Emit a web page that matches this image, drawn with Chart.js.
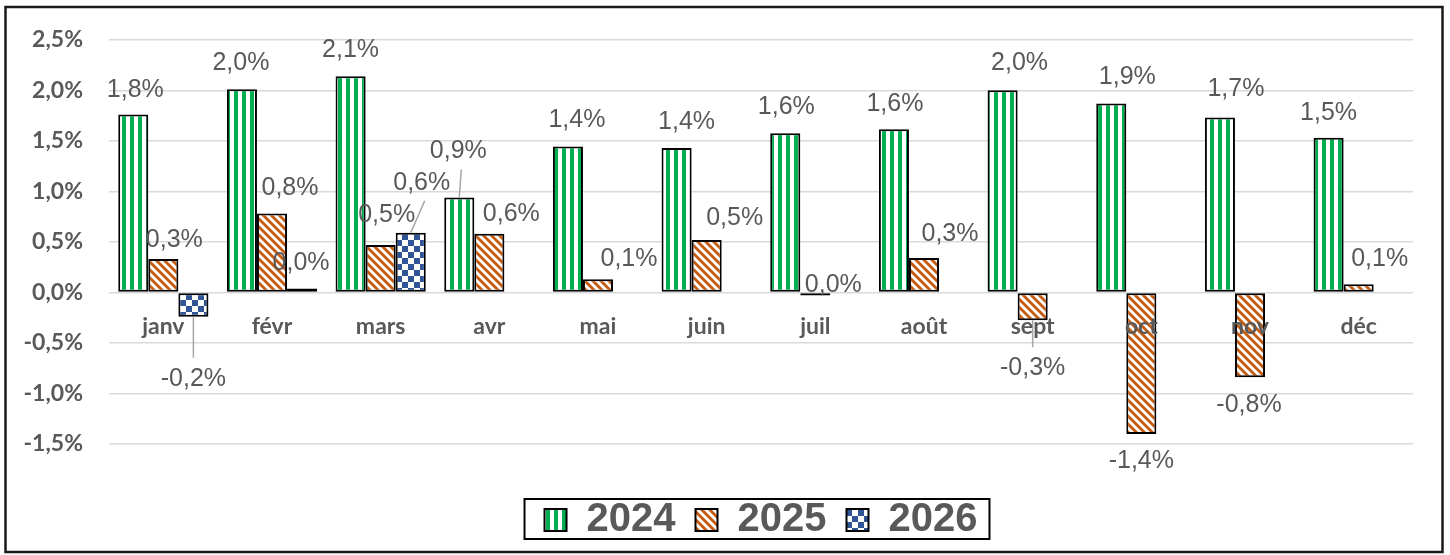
<!DOCTYPE html>
<html>
<head>
<meta charset="utf-8">
<script src="https://cdn.jsdelivr.net/npm/chart.js@4"></script>
<style>
  html, body { margin: 0; padding: 0; background: #fff; overflow: hidden; }
</style>
</head>
<body>
<canvas id="c" width="1450" height="555"></canvas>
<script>
// data
const months = ['janv', 'févr', 'mars', 'avr', 'mai', 'juin', 'juil', 'août', 'sept', 'oct', 'nov', 'déc'];
const years = ['2024', '2025', '2026'];
const v2024 = [1.76, 2.01, 2.14, 0.94, 1.445, 1.43, 1.575, 1.615, 2.00, 1.87, 1.73, 1.53];
const v2025 = [0.33, 0.78, 0.47, 0.58, 0.13, 0.52, -0.03, 0.34, -0.275, -1.40, -0.84, 0.08];
const v2026 = [-0.24, 0.04, 0.59, null, null, null, null, null, null, null, null, null];
const yTicksMin = -1.5, yTicksMax = 2.5, yStep = 0.5;

// where each value label sits relative to the end of its bar [dx, dy]
const labelOffsets = [
    [[2,-24],[-1,-26],[0,-26],[-1,-46],[9,-26],[10,-26],[1,-26],[1,-25],[17,-27],[16,-26],[16,-28],[0,-25]],
    [[11,-19],[18,-25],[6,-30],[22,-20],[31,-20],[28,-22],[18,-10],[26,-24],[0,48],[0,27],[-1,28],[21,-25]],
    [[0,62],[-1,-25],[11,-50]]
];
// labels moved away from their bar get a leader line
const leaders = ['0-3', '1-8', '2-0', '2-2'];

const canvas = document.getElementById('c');
const ctx = canvas.getContext('2d');

function makePattern(size, draw) {
    const tile = document.createElement('canvas');
    tile.width = size;
    tile.height = size;
    const g = tile.getContext('2d');
    g.fillStyle = '#ffffff';
    g.fillRect(0, 0, size, size);
    draw(g, size);
    return ctx.createPattern(tile, 'repeat');
}

// 2024: wide vertical green stripes
const greenStripes = makePattern(8, (g) => {
    g.fillStyle = '#00B050';
    g.fillRect(2, 0, 4, 8);
});
// 2025: orange downward diagonal
const orangeDiag = makePattern(8, (g, s) => {
    g.strokeStyle = '#C55A11';
    g.lineWidth = 2.8;
    for (let k = -s; k <= s; k += s) {
        g.beginPath();
        g.moveTo(k - 1, -1);
        g.lineTo(k + s + 1, s + 1);
        g.stroke();
    }
});
// 2026: blue checkerboard
const blueChecker = makePattern(12, (g) => {
    g.fillStyle = '#2F5597';
    g.fillRect(0, 0, 6, 6);
    g.fillRect(6, 6, 6, 6);
});

function fmt(v) {
    const s = Math.abs(v) < 0.05 ? '0.0' : v.toFixed(1);
    return s.replace('.', ',') + '%';
}

const barLabels = {
    id: 'barLabels',
    afterDatasetsDraw(chart) {
        const c = chart.ctx;
        c.save();
        c.font = '25px "Liberation Sans", Arial, sans-serif';
        c.fillStyle = '#595959';
        c.textAlign = 'center';
        c.textBaseline = 'middle';
        chart.data.datasets.forEach((ds, di) => {
            const meta = chart.getDatasetMeta(di);
            meta.data.forEach((bar, i) => {
                const v = ds.data[i];
                if (v === null || v === undefined) return;
                const off = labelOffsets[di][i];
                const lx = bar.x + off[0];
                const ly = bar.y + off[1];
                if (leaders.includes(di + '-' + i)) {
                    const endY = off[1] < 0 ? ly + 18 : ly - 21;
                    c.strokeStyle = '#A6A6A6';
                    c.lineWidth = 1.5;
                    c.beginPath();
                    c.moveTo(bar.x, bar.y);
                    c.lineTo(lx + (off[1] < 0 ? 3 : 0), endY);
                    c.stroke();
                }
                c.fillText(fmt(v), lx, ly);
            });
        });
        c.restore();
    }
};

const frames = {
    id: 'frames',
    afterDraw(chart) {
        const c = chart.ctx;
        c.save();
        // legend box
        const hb = chart.legend.legendHitBoxes;
        if (hb && hb.length) {
            const left = Math.min(...hb.map(h => h.left)) - 20;
            const right = Math.max(...hb.map(h => h.left + h.width)) + 12;
            c.strokeStyle = '#000000';
            c.lineWidth = 2;
            c.strokeRect(left, hb[0].top - 1, right - left, hb[0].height);
        }
        // outer chart border
        c.strokeStyle = '#1a1a1a';
        c.lineWidth = 2.5;
        c.strokeRect(5.5, 7, 1437, 545);
        c.restore();
    }
};

Chart.defaults.font.family = '"Liberation Sans", Arial, sans-serif';

new Chart(ctx, {
    type: 'bar',
    data: {
        labels: months,
        datasets: [
            { label: years[0], data: v2024, backgroundColor: greenStripes },
            { label: years[1], data: v2025, backgroundColor: orangeDiag },
            { label: years[2], data: v2026, backgroundColor: blueChecker }
        ]
    },
    options: {
        responsive: false,
        animation: false,
        events: [],
        datasets: {
            bar: {
                borderColor: '#000000',
                borderWidth: 2,
                borderSkipped: false,
                categoryPercentage: 0.83,
                barPercentage: 1.0
            }
        },
        layout: { padding: { left: 0, right: 37, top: 37, bottom: 5 } },
        scales: {
            x: {
                position: { y: 0 },
                grid: { display: false, drawTicks: false },
                border: { display: false },
                ticks: {
                    z: 1,
                    color: '#595959',
                    padding: 20,
                    font: { family: 'Lato, "Liberation Sans", sans-serif', size: 23, weight: 'bold' }
                }
            },
            y: {
                min: yTicksMin,
                max: yTicksMax,
                afterFit(scale) { scale.width = 109; },
                grid: { color: '#D9D9D9', lineWidth: 1.5, drawTicks: false },
                border: { display: false },
                ticks: {
                    stepSize: yStep,
                    color: '#595959',
                    padding: 26,
                    font: { family: 'Lato, "Liberation Sans", sans-serif', size: 23, weight: 'bold' },
                    callback: (v) => v.toFixed(1).replace('.', ',') + '%'
                }
            }
        },
        plugins: {
            tooltip: { enabled: false },
            legend: {
                position: 'bottom',
                fullSize: false,
                labels: {
                    boxWidth: 22,
                    boxHeight: 22,
                    padding: 20,
                    color: '#595959',
                    font: { size: 40, weight: 'bold' }
                },
                title: {
                    display: true,
                    text: ' ',
                    color: 'rgba(0,0,0,0)',
                    font: { size: 10 },
                    padding: { top: 24, bottom: 0 }
                }
            }
        }
    },
    plugins: [barLabels, frames]
});
</script>
</body>
</html>
